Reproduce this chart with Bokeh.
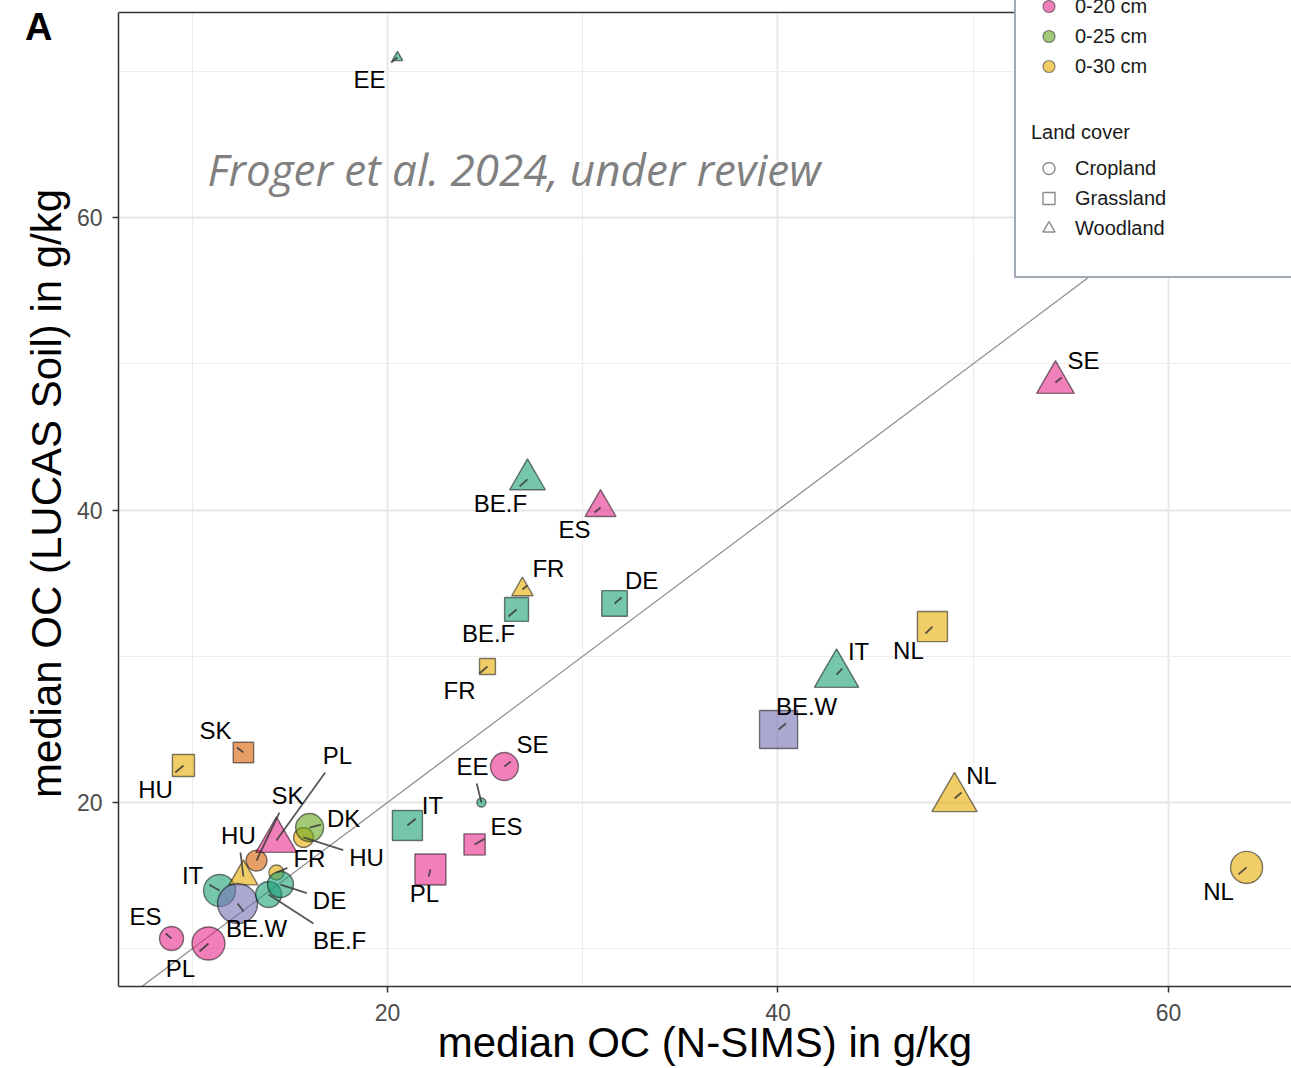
import math
from bokeh.plotting import figure
from bokeh.models import (Range1d, FixedTicker, LinearAxis, Legend, LegendItem,
                          Label, Slope, Span, BoxAnnotation, ColumnDataSource)
from bokeh.core.properties import value
from bokeh.embed import file_html
from bokeh.resources import INLINE

# ------------------------------------------------------------------ data
country = ["EE", "BE.F", "ES", "FR", "BE.F", "DE", "FR", "SE", "IT", "NL",
           "BE.W", "NL", "NL", "SE", "EE", "IT", "ES", "PL", "SK", "HU",
           "SK", "PL", "HU", "DK", "FR", "IT", "HU", "BE.W", "BE.F", "DE",
           "ES", "PL"]
land_cover = ["Woodland", "Woodland", "Woodland", "Woodland", "Grassland", "Grassland",
              "Grassland", "Woodland", "Woodland", "Grassland", "Grassland", "Woodland",
              "Cropland", "Cropland", "Cropland", "Grassland", "Grassland", "Grassland",
              "Grassland", "Grassland", "Cropland", "Woodland", "Cropland", "Cropland",
              "Cropland", "Cropland", "Woodland", "Cropland", "Cropland", "Cropland",
              "Cropland", "Cropland"]
# depth groups: g1-g3 are the groups whose legend rows are cut off above the image
depth = ["g1", "g1", "0-20 cm", "0-30 cm", "g1", "g1", "0-30 cm", "0-20 cm", "g1", "0-30 cm",
         "g3", "0-30 cm", "0-30 cm", "0-20 cm", "g1", "g1", "0-20 cm", "0-20 cm", "g2", "0-30 cm",
         "g2", "0-20 cm", "0-30 cm", "0-25 cm", "0-30 cm", "g1", "0-30 cm", "g3", "g1", "g1",
         "0-20 cm", "0-20 cm"]
oc_nsims = [20.51, 27.17, 30.91, 26.91, 26.61, 31.63, 25.12, 54.21, 43.00, 47.91,
            40.03, 49.04, 64.00, 25.99, 24.81, 21.02, 24.46, 22.20, 12.62, 9.55,
            13.29, 14.31, 15.70, 16.01, 14.31, 11.40, 12.62, 12.32, 13.91, 14.52,
            8.94, 10.83]
oc_lucas = [70.94, 42.09, 40.17, 34.56, 33.20, 33.61, 29.30, 48.72, 28.75, 32.03,
            24.99, 20.27, 15.56, 22.46, 20.00, 18.43, 17.13, 15.42, 23.42, 22.53,
            16.03, 17.40, 17.61, 18.29, 15.21, 13.98, 14.94, 13.09, 13.71, 14.39,
            10.70, 10.36]
n_sites = [7, 78, 59, 28, 81, 93, 36, 87, 121, 128,
           205, 125, 114, 87, 9, 128, 64, 136, 59, 69,
           49, 103, 44, 87, 25, 114, 51, 178, 75, 75,
           64, 121]

depth_levels = ["g1", "g2", "g3", "0-20 cm", "0-25 cm", "0-30 cm"]
legend_depths = ["0-20 cm", "0-25 cm", "0-30 cm"]
cover_levels = ["Cropland", "Grassland", "Woodland"]
axis_ticks = [20, 40, 60]

x_title = "median OC (N-SIMS) in g/kg"
y_title = "median OC (LUCAS Soil) in g/kg"
panel_tag = "A"
note = "Froger et al. 2024, under review"

# ------------------------------------------------------------------ styling / layout
palette = ["#1b9e77", "#d95f02", "#7570b3", "#e7298a", "#66a61e", "#e6ab02"]
markers = {"Cropland": "circle", "Grassland": "square", "Woodland": "triangle"}
shape_scale = {"Cropland": 1.0, "Grassland": 0.886, "Woodland": 1.347}
# label nudges in screen pixels (right, down) from each point
label_nudge = [(-28, 22), (-27, 24), (-26, 22), (26, -21), (-28, 24), (27, -23), (-28, 24),
               (28, -22), (22, -23), (-24, 24), (28, -23), (27, -23), (-28, 24), (28, -22),
               (-9, -36), (25, -20), (32, -18), (-6, 24), (-28, -22), (-28, 24), (31, -65),
               (61, -85), (63, 20), (34, -9), (33, -14), (-27, -15), (-5, -41), (19, 25),
               (71, 46), (49, 16), (-26, -22), (-28, 25)]

FONT = "Liberation Sans"
W, H = 1291, 1068
LEFT, BOTTOM = 118, 82
FRAME_W, FRAME_H = W - LEFT, H - BOTTOM
X0, X1 = 6.223, 66.30
Y0, Y1 = 7.419, 74.838
TOP_Y = 74.02          # where the panel border is drawn
xppu = FRAME_W / (X1 - X0)
yppu = FRAME_H / (Y1 - Y0)

p = figure(width=W, height=H,
           min_border_left=LEFT, min_border_right=0, min_border_top=0, min_border_bottom=BOTTOM,
           x_range=Range1d(X0, X1), y_range=Range1d(Y0, Y1),
           output_backend="svg", toolbar_location=None)
p.outline_line_color = None
p.background_fill_color = "white"
p.border_fill_color = "white"

xa = p.below[0]
ya = p.left[0]
xa.ticker = FixedTicker(ticks=axis_ticks, minor_ticks=[10, 30, 50])
ya.ticker = FixedTicker(ticks=axis_ticks, minor_ticks=[10, 30, 50, 70])
ya.bounds = (Y0, TOP_Y)
for ax in (xa, ya):
    ax.axis_line_color = "#333333"
    ax.axis_line_width = 1.5
    ax.major_tick_line_color = "#333333"
    ax.major_tick_line_width = 1.5
    ax.major_tick_out = 6
    ax.major_tick_in = 0
    ax.minor_tick_out = 0
    ax.minor_tick_in = 0
    ax.major_label_text_font = FONT
    ax.major_label_text_font_size = "23px"
    ax.major_label_text_color = "#4d4d4d"
    ax.axis_label_text_font = FONT
    ax.axis_label_text_font_size = "42px"
    ax.axis_label_text_font_style = "normal"
    ax.axis_label_text_color = "black"
xa.major_label_standoff = 11
ya.major_label_standoff = 10
xa.axis_label = x_title
ya.axis_label = y_title
xa.axis_label_standoff = -5
ya.axis_label_standoff = 4

# panel tag "A" drawn as the only tick label of an extra, line-less left axis
tag_axis = LinearAxis(ticker=FixedTicker(ticks=[73]), major_label_overrides={73: panel_tag},
                      axis_line_color=None, major_tick_line_color=None,
                      minor_tick_line_color=None, major_tick_out=0, major_tick_in=0,
                      minor_tick_out=0, minor_tick_in=0, major_label_standoff=-33,
                      major_label_text_font=FONT, major_label_text_font_style="bold",
                      major_label_text_font_size="38px", major_label_text_color="black")
p.add_layout(tag_axis, "left")

for g in (p.xgrid[0], p.ygrid[0]):
    g.grid_line_color = "#e6e6e6"
    g.grid_line_width = 1.8
    g.minor_grid_line_color = "#ececec"
    g.minor_grid_line_width = 1.1

p.add_layout(Slope(gradient=1, y_intercept=0, line_color="#8f8f8f", line_width=1.3,
                   level="underlay"))

# ------------------------------------------------------------------ points
colors = [palette[depth_levels.index(d)] for d in depth]
mk = [markers[lc] for lc in land_cover]
sizes = [3.0 * math.sqrt(n) * shape_scale[lc] for n, lc in zip(n_sites, land_cover)]
src = ColumnDataSource(dict(x=oc_nsims, y=oc_lucas, c=colors, m=mk, s=sizes))
p.scatter("x", "y", source=src, marker="m", size="s", fill_color="c", fill_alpha=0.6,
          line_color="black", line_alpha=0.5, line_width=1.4)

# ------------------------------------------------------------------ repel-style segments and labels
cw = {"B": .667, "E": .667, ".": .278, "F": .611, "W": .944, "S": .667, "D": .722,
      "N": .722, "L": .556, "I": .278, "T": .611, "P": .667, "K": .667, "H": .722,
      "U": .722, "R": .722}
LBL_PX = 24
sx0, sy0, sx1, sy1 = [], [], [], []
for i, name in enumerate(country):
    dx, dy = label_nudge[i]
    hw = sum(cw[ch] for ch in name) * LBL_PX / 2 + 6
    hh = 17
    t = min(hw / abs(dx) if dx else 1e9, hh / abs(dy) if dy else 1e9)
    if t >= 1:
        continue
    ex, ey = dx * (1 - t), dy * (1 - t)
    if math.hypot(ex, ey) < 5:
        continue
    sx0.append(oc_nsims[i])
    sy0.append(oc_lucas[i])
    sx1.append(oc_nsims[i] + ex / xppu)
    sy1.append(oc_lucas[i] - ey / yppu)
p.segment(sx0, sy0, sx1, sy1, line_color="#3a3a3a", line_width=1.8, line_alpha=0.85)

lsrc = ColumnDataSource(dict(x=oc_nsims, y=oc_lucas, t=country,
                             xo=[d[0] for d in label_nudge], yo=[d[1] for d in label_nudge]))
p.text("x", "y", text="t", source=lsrc, x_offset="xo", y_offset="yo",
       text_align="center", text_baseline="middle", text_font=value(FONT),
       text_font_size=f"{LBL_PX}px", text_color="black")

# blank strip above the panel border, then the border itself
p.add_layout(BoxAnnotation(bottom=TOP_Y, fill_color="white", fill_alpha=1, line_color=None))
p.add_layout(Span(location=TOP_Y, dimension="width", line_color="#333333", line_width=1.5))

p.add_layout(Label(x=89, y=818, x_units="screen", y_units="screen", text=note,
                   text_font="Open Sans", text_font_style="italic", text_font_size="44px",
                   text_color="#808080", text_baseline="alphabetic"))

# ------------------------------------------------------------------ legend
NAN = float("nan")


def dummy(marker, **kw):
    return p.scatter(x=[NAN], y=[NAN], marker=marker, **kw)


items1 = []
for lvl in legend_depths:
    r = dummy("circle", fill_color=palette[depth_levels.index(lvl)], fill_alpha=0.6,
              line_color="black", line_alpha=0.45, line_width=1.2)
    items1.append(LegendItem(label=lvl, renderers=[r]))
for _ in range(6):
    r = dummy("circle", fill_alpha=0, line_alpha=0)
    items1.append(LegendItem(label=" ", renderers=[r]))

items2 = []
for lc in cover_levels:
    r = dummy(markers[lc], fill_alpha=0, line_color="#8c8c8c", line_width=1.4)
    items2.append(LegendItem(label=lc, renderers=[r]))

common = dict(padding=15, spacing=0, glyph_width=35, glyph_height=30, label_height=30,
              label_standoff=9, label_text_font=FONT, label_text_font_size="20px",
              label_text_color="#1a1a1a", margin=0)
L1 = Legend(items=items1, location=(896, 708), border_line_color="#44546a",
            border_line_width=2, background_fill_color="white", background_fill_alpha=1,
            label_width=300, **common)
L2 = Legend(items=items2, location=(913, 743), title="Land cover",
            title_text_font=FONT, title_text_font_size="20px", title_text_font_style="normal",
            title_text_color="#1a1a1a", title_standoff=9, border_line_color=None,
            background_fill_alpha=0, **common)
p.add_layout(L1)
p.add_layout(L2)

open("out.html", "w").write(file_html(p, INLINE))
